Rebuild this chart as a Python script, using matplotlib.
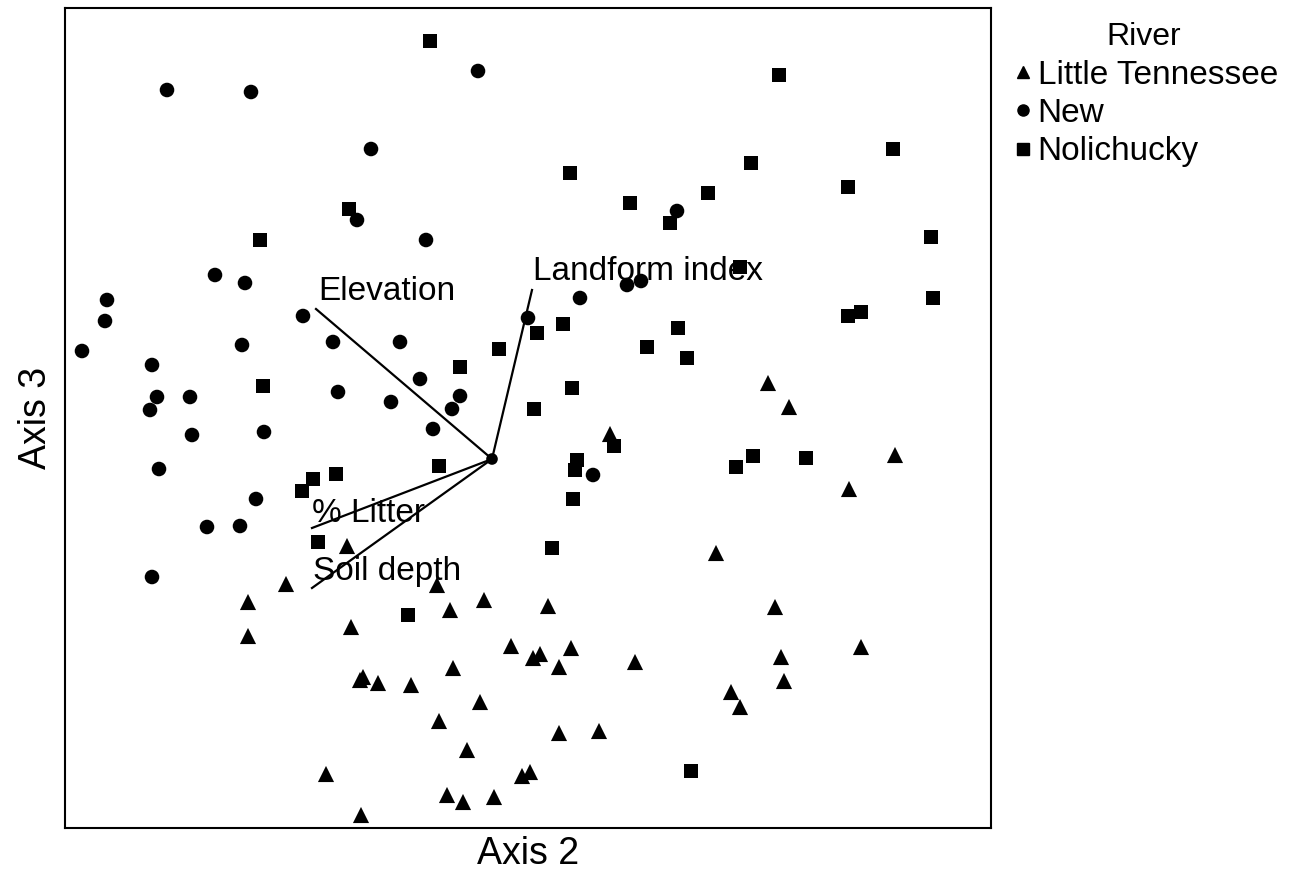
import matplotlib
matplotlib.use("Agg")
import matplotlib.pyplot as plt
from matplotlib.lines import Line2D

plt.rcParams['font.family'] = ['Liberation Sans', 'DejaVu Sans']

# Site scores on ordination axes 2 and 3, grouped by river
little_tennessee_x = [-0.3625, 0.69, 0.7425, 0.295, 1.0075, 0.8925, 0.56, -0.515, -0.1375,
                      -0.61, -0.02, -0.105, -0.3525, -0.61, 0.0475, -0.0975, -0.33, -0.3225,
                      -0.285, -0.2025, -0.03, -0.1325, -0.0625, -0.415, -0.1125, -0.0725,
                      0.005, -0.3275, 0.14, 0.7075, 0.12, 0.1025, 0.1975, 0.1675, 0.3575,
                      0.7225, 0.9225, 0.73, 0.5975, 0.62, 0.1675, 0.2675, 0.075, 0.095]
little_tennessee_y = [-0.2175, 0.19, 0.13, 0.0625, 0.01, -0.075, -0.235, -0.3125, -0.315,
                      -0.3575, -0.3525, -0.3775, -0.42, -0.4425, -0.4675, -0.5225, -0.5525,
                      -0.545, -0.56, -0.565, -0.6075, -0.655, -0.7275, -0.7875, -0.84,
                      -0.8575, -0.845, -0.89, -0.3675, -0.37, -0.4875, -0.4975, -0.4725,
                      -0.52, -0.5075, -0.495, -0.47, -0.555, -0.5825, -0.62, -0.685, -0.68,
                      -0.7925, -0.7825]

new_x = [-0.035, -0.8125, -0.6025, -0.3025, -0.3375, -0.165, -0.6925, -0.6175, -0.9625,
         -0.9675, -1.025, -0.4725, -0.625, -0.3975, -0.23, -0.85, -0.18, -0.8375, -0.755,
         -0.385, -0.2525, -0.08, -0.1, -0.855, -0.75, -0.57, -0.1475, -0.8325, -0.59,
         -0.7125, -0.63, -0.85, 0.4625, 0.3375, 0.3725, 0.22, 0.09, 0.2525]
new_y = [0.97, 0.9225, 0.9175, 0.775, 0.5975, 0.5475, 0.46, 0.44, 0.3975, 0.345, 0.27,
         0.3575, 0.285, 0.2925, 0.2925, 0.235, 0.2, 0.155, 0.155, 0.1675, 0.1425, 0.1575,
         0.125, 0.1225, 0.06, 0.0675, 0.075, -0.025, -0.1, -0.17, -0.1675, -0.295, 0.62,
         0.435, 0.445, 0.4025, 0.3525, -0.04]

nolichucky_x = [-0.155, -0.3575, -0.58, 0.7175, 0.195, 0.6475, 1.0025, 0.89, 0.345, 0.54,
                0.445, 1.0975, 0.62, 1.1025, 0.0175, -0.08, -0.5725, -0.1325, -0.39,
                -0.4475, -0.475, -0.435, 0.1775, 0.1125, 0.465, 0.3875, 0.4875, 0.89,
                0.9225, 0.2, 0.105, 0.305, 0.2125, 0.2075, 0.2025, 0.6525, 0.61, 0.785,
                0.15, -0.21, 0.4975]
nolichucky_y = [1.045, 0.625, 0.5475, 0.96, 0.715, 0.74, 0.775, 0.68, 0.64, 0.665, 0.59,
                0.555, 0.48, 0.4025, 0.275, 0.23, 0.1825, -0.0175, -0.0375, -0.05, -0.08,
                -0.2075, 0.3375, 0.315, 0.3275, 0.28, 0.2525, 0.3575, 0.3675, 0.1775,
                0.125, 0.0325, -0.0025, -0.0275, -0.1, 0.0075, -0.02, 0.0025, -0.2225,
                -0.39, -0.78]

# Environmental vectors (biplot arrows from the centroid)
vector_names = ["Elevation", "Landform index", "% Litter", "Soil depth"]
vector_x = [-0.44, 0.10, -0.45, -0.45]
vector_y = [0.375, 0.4225, -0.1725, -0.3225]
vector_label_x = [-0.435, 0.1025, -0.45, -0.4475]
vector_label_y = [0.4175, 0.4675, -0.135, -0.28]

rivers = ["Little Tennessee", "New", "Nolichucky"]
river_markers = ["^", "o", "s"]
marker_sizes = [135, 110, 110]

fig = plt.figure(figsize=(13.06, 8.82), dpi=100)
ax = fig.add_axes([65 / 1306, 1 - 828 / 882, (991 - 65) / 1306, (828 - 8) / 882])

series = [(little_tennessee_x, little_tennessee_y),
          (new_x, new_y),
          (nolichucky_x, nolichucky_y)]
for (xs, ys), mk, ms in zip(series, river_markers, marker_sizes):
    ax.scatter(xs, ys, marker=mk, s=ms, c="black", edgecolors="none", zorder=3)

for vx, vy in zip(vector_x, vector_y):
    ax.plot([0, vx], [0, vy], color="black", lw=1.6, zorder=2)
ax.scatter([0], [0], s=70, c="black", edgecolors="none", zorder=4)

for name, lx, ly in zip(vector_names, vector_label_x, vector_label_y):
    ax.text(lx, ly, name, fontsize=24, ha="left", va="center", zorder=5)

ax.set_xlim(-1.0675, 1.2475)
ax.set_ylim(-0.9225, 1.1275)
ax.set_xticks([])
ax.set_yticks([])
for sp in ax.spines.values():
    sp.set_linewidth(1.5)

ax.set_xlabel("Axis 2", fontsize=27, labelpad=6)
ax.set_ylabel("Axis 3", fontsize=27, labelpad=8)

handles = [Line2D([], [], marker=mk, ls="none", color="black", markersize=8)
           for mk in river_markers]
leg = fig.legend(handles, rivers, title="River", loc="upper left",
                 bbox_to_anchor=(996 / 1306, 1 - 9 / 882), frameon=False,
                 fontsize=24, title_fontsize=23, handletextpad=0.05,
                 handlelength=0.8, labelspacing=0.22, borderaxespad=0)

fig.savefig("out.png", dpi=100, facecolor="white")
